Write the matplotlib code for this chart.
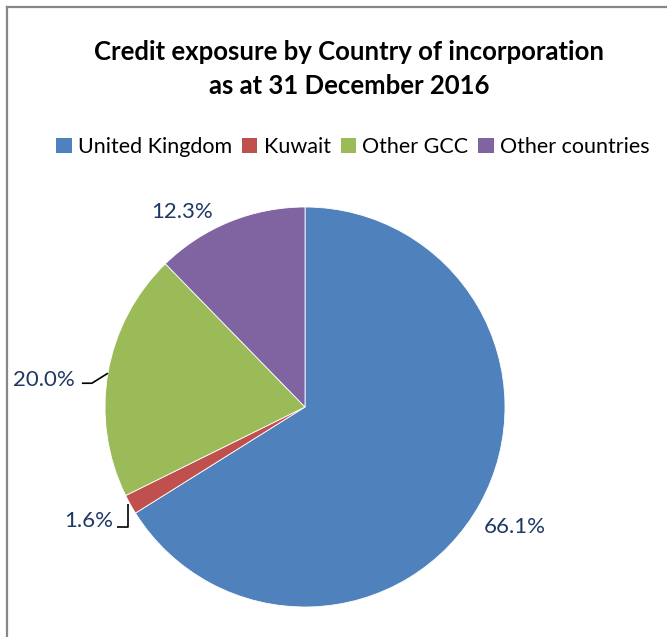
import numpy as np
import matplotlib
matplotlib.use("Agg")
import matplotlib.pyplot as plt
from matplotlib.lines import Line2D
from matplotlib.patches import Patch

plt.rcParams["font.family"] = ["Lato", "DejaVu Sans"]

# data
countries = ["United Kingdom", "Kuwait", "Other GCC", "Other countries"]
shares = [66.1, 1.6, 20.0, 12.3]
pct_labels = ["66.1%", "1.6%", "20.0%", "12.3%"]
colors = ["#4F81BD", "#C0504D", "#9BBB59", "#8064A2"]

W, H = 667, 637
cx, cy, R = 305, 407, 200  # pie centre / radius in pixels

fig = plt.figure(figsize=(W / 100, H / 100), dpi=100, facecolor="white")
ax = fig.add_axes([0, 0, 1, 1])

wedges, _ = ax.pie(
    shares,
    colors=colors,
    startangle=90,
    counterclock=False,
    radius=1.0,
    wedgeprops=dict(edgecolor="white", linewidth=0.6),
)
ax.set_xlim(-cx / R, (W - cx) / R)
ax.set_ylim(-(H - cy) / R, cy / R)
ax.axis("off")

lbl_color = "#1F3864"
lbl_size = 16

# mid angles for label / leader placement
mids = [np.deg2rad((w.theta1 + w.theta2) / 2) for w in wedges]

# UK
ax.text(1.05, -0.60, pct_labels[0], ha="center", va="center",
        fontsize=lbl_size, color=lbl_color)
# Other countries
ax.text(-0.615, 0.975, pct_labels[3], ha="center", va="center",
        fontsize=lbl_size, color=lbl_color)

# Other GCC with leader
a = mids[2]
ex, ey = np.cos(a), np.sin(a)
ax.plot([ex, ex - 0.08, ex - 0.13], [ey, ey - 0.05, ey - 0.05],
        color="black", lw=1.2, solid_capstyle="butt")
ax.text(ex - 0.165, ey - 0.05 + 0.015, pct_labels[2], ha="right", va="center",
        fontsize=lbl_size, color=lbl_color)

# Kuwait with leader
a = mids[1]
ex, ey = np.cos(a), np.sin(a)
ax.plot([ex - 0.01, ex - 0.01, ex - 0.065], [ey, ey - 0.115, ey - 0.115],
        color="black", lw=1.2, solid_capstyle="butt")
ax.text(ex - 0.085, ey - 0.115 + 0.03, pct_labels[1], ha="right", va="center",
        fontsize=lbl_size, color=lbl_color)

# title
fig.text(349 / W, 1 - 69 / H,
         "Credit exposure by Country of incorporation\nas at 31 December 2016",
         ha="center", va="center", fontsize=18.5, fontweight="bold",
         color="black", linespacing=1.45)

# legend
handles = [Patch(facecolor=c, edgecolor="none") for c in colors]
fig.legend(handles, countries, loc="center", ncol=4,
           bbox_to_anchor=(353 / W, 1 - 147 / H), frameon=False,
           fontsize=15.5, handlelength=0.72, handleheight=0.72,
           handletextpad=0.3, columnspacing=0.45, labelcolor="black")

# chart area border (left and top edges visible)
fig.add_artist(Line2D([6.5 / W, 6.5 / W], [0, 1 - 6.5 / H],
                      transform=fig.transFigure, color="#878787", lw=1.6))
fig.add_artist(Line2D([6.5 / W, 1], [1 - 6.5 / H, 1 - 6.5 / H],
                      transform=fig.transFigure, color="#878787", lw=1.6))

fig.savefig("out.png", dpi=100, facecolor="white")
